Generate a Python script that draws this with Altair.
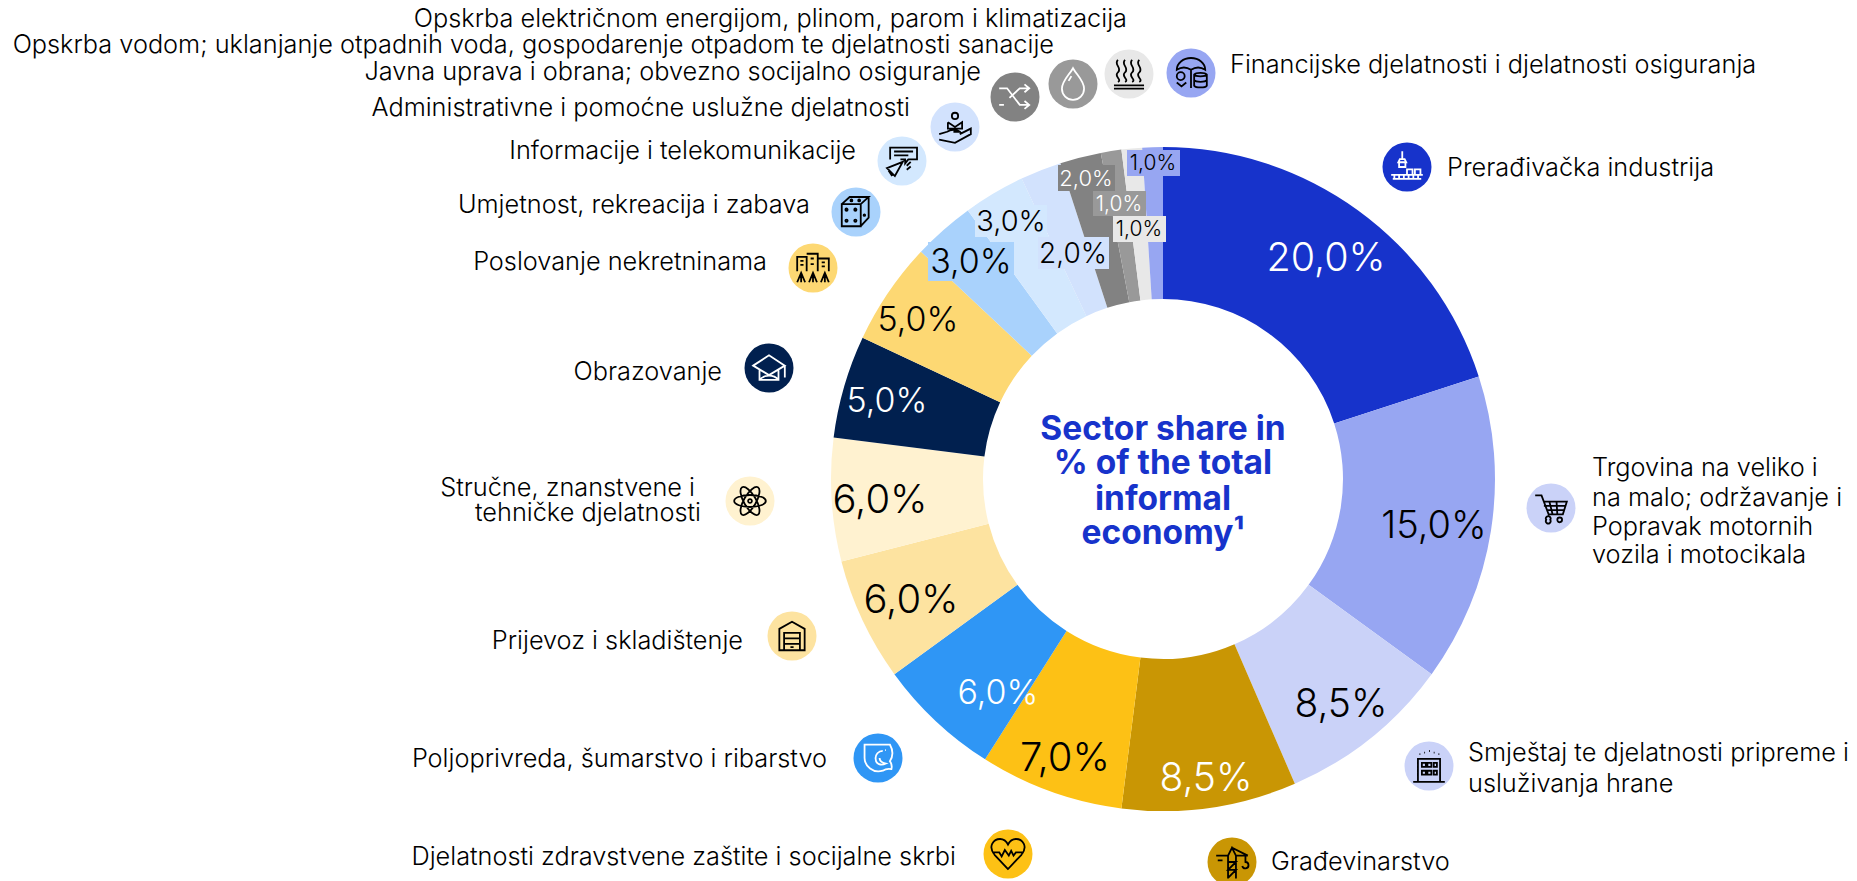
import altair as alt
import pandas as pd

W, H = 1841, 873
FONT = "Inter"

sectors = ["Prerađivačka industrija", "Trgovina", "Smještaj", "Građevinarstvo", "Zdravstvo",
           "Poljoprivreda", "Prijevoz", "Stručne", "Obrazovanje", "Nekretnine", "Umjetnost",
           "Informacije", "Administrativne", "Javna uprava", "Voda", "Energija", "Financije"]
shares = [20, 15, 8.5, 8.5, 7, 6, 6, 6, 5, 5, 3, 3, 2, 2, 1, 1, 1]
colors = ["#1733CB", "#97A6F2", "#CAD2F8", "#C99604", "#FDC115", "#2F96F5", "#FDE3A0", "#FFF2D0",
          "#01204F", "#FDD873", "#A9D2FC", "#D3E8FE", "#D2E2FD", "#828282", "#999999", "#E8E8E8", "#97A6F2"]

# value labels: text, centre x, centre y, font size, ink
val_text = ["20,0%", "15,0%", "8,5%", "8,5%", "7,0%", "6,0%", "6,0%", "6,0%", "5,0%", "5,0%",
            "3,0%", "3,0%", "2,0%", "2,0%", "1,0%", "1,0%", "1,0%"]
val_x = [1326, 1434, 1341, 1206, 1065, 998, 911, 880, 887, 918, 971, 1011, 1073, 1086, 1153, 1119, 1139]
val_y = [259, 527, 705, 779, 759, 694, 601, 501, 402, 321, 263, 222, 255, 179, 164, 205, 230]
val_size = [39.5, 38, 39, 39, 40, 34, 40, 40, 34, 34, 34, 29, 28, 22, 21, 21, 21]
val_ink = ["white", "black", "black", "white", "black", "white", "black", "black", "white", "black",
           "black", "black", "black", "white", "black", "white", "black"]

# tinted boxes behind the crowded value labels
box_x = [1127, 1058, 1093, 1113, 1038, 975, 928]
box_x2 = [1180, 1115, 1146, 1166, 1109, 1047, 1014]
box_y = [150, 165, 191, 216, 237, 205, 242]
box_y2 = [176, 191, 216, 242, 269, 237, 281]
box_color = ["#97A6F2", "#828282", "#999999", "#E8E8E8", "#D2E2FD", "#D3E8FE", "#A9D2FC"]

# outer labels
right_text = ["Financijske djelatnosti i djelatnosti osiguranja", "Prerađivačka industrija",
              "Trgovina na veliko i", "na malo; održavanje i", "Popravak motornih", "vozila i motocikala",
              "Smještaj te djelatnosti pripreme i", "usluživanja hrane", "Građevinarstvo"]
right_x = [1230, 1447, 1592, 1592, 1592, 1592, 1468, 1468, 1271]
right_y = [65, 168, 468, 498, 527, 555, 753, 784, 862]
left_text = ["Opskrba električnom energijom, plinom, parom i klimatizacija",
             "Opskrba vodom; uklanjanje otpadnih voda, gospodarenje otpadom te djelatnosti sanacije",
             "Javna uprava i obrana; obvezno socijalno osiguranje",
             "Administrativne i pomoćne uslužne djelatnosti", "Informacije i telekomunikacije",
             "Umjetnost, rekreacija i zabava", "Poslovanje nekretninama", "Obrazovanje",
             "Stručne, znanstvene i", "tehničke djelatnosti", "Prijevoz i skladištenje",
             "Poljoprivreda, šumarstvo i ribarstvo", "Djelatnosti zdravstvene zaštite i socijalne skrbi"]
left_x = [1127, 1054, 981, 910, 856, 810, 767, 722, 695, 701, 743, 827, 956]
left_y = [19, 45, 72, 108, 151, 205, 262, 372, 488, 513, 641, 759, 857]

center_lines = ["Sector share in", "% of the total", "informal", "economy¹"]
center_y = [430, 464, 500, 534]

# icon discs and glyphs (glyphs drawn in a -1..1 box)
icon_x = [1407, 1551, 1429, 1232, 1008, 878, 792, 750, 769, 813, 856, 902, 955, 1015, 1073, 1129, 1191]
icon_y = [167, 508, 766, 862, 854, 758, 636, 501, 368, 268, 212, 161, 127, 97, 84, 74, 73]
icon_fill = ["#1733CB", "#CAD2F8", "#CAD2F8", "#C99604", "#FDC115", "#2F96F5", "#FDE3A0", "#FFF2D0",
             "#01204F", "#FDD873", "#A9D2FC", "#D3E8FE", "#D2E2FD", "#828282", "#999999", "#E8E8E8", "#97A6F2"]
icon_ink = ["white", "black", "black", "black", "black", "white", "black", "black",
            "white", "black", "black", "black", "black", "white", "white", "black", "black"]
icon_path = [
    "M-0.3 -1V-0.5M-0.45 -0.5H-0.15L-0.05 -0.3H-0.55ZM-0.5 -0.3V0H-0.1V-0.3M-1 0.5H1M-0.9 0.75H0.9M-0.8 0.5V0.75M-0.5 0.5V0.75M-0.2 0.5V0.75M0.1 0.5V0.75M0.4 0.5V0.75M0.7 0.5V0.75M0 0.15H0.35V0.5H0ZM0.5 0.15H0.85V0.5H0.5Z",
    "M-1 -0.8H-0.6L-0.15 0.4H0.75L1 -0.4H-0.42M-0.45 -0.13H0.9M-0.3 0.13H0.8M-0.1 -0.4L0.1 0.4M0.35 -0.4L0.4 0.4M-0.05 0.75A0.15 0.15 0 1 1 -0.3 0.75A0.15 0.15 0 1 1 -0.05 0.75ZM0.7 0.75A0.15 0.15 0 1 1 0.4 0.75A0.15 0.15 0 1 1 0.7 0.75Z",
    "M-0.7 1V-0.45H0.7V1M-1 1H1M-0.45 -0.2H-0.2V0.05H-0.45ZM-0.1 -0.2H0.15V0.05H-0.1ZM0.3 -0.2H0.5V0.05H0.3ZM-0.45 0.3H-0.2V0.55H-0.45ZM-0.1 0.3H0.15V0.55H-0.1ZM0.3 0.3H0.5V0.55H0.3ZM-0.6 -0.75H-0.55M-0.3 -0.85H-0.25M0 -0.95H0.05M0.3 -0.85H0.35M0.6 -0.75H0.65",
    "M-0.25 1.05V-0.4L0 -0.9L0.25 -0.4V1.05M-0.25 -0.4H-1M0.25 -0.4H1M-0.25 -0.4L0 -0.9L1 -0.4M-0.25 -0.4L-1 -0.4M-0.25 0H0.25L-0.25 0.5H0.25L-0.25 1M0.25 0L-0.25 0.5M0.25 0.5L-0.25 1M0.85 -0.4V0A0.2 0.2 0 1 1 0.65 0.25M-0.9 -0.1H-0.6",
    "M0 0.95L-0.85 0.05C-1.3 -0.5 -0.9 -0.95 -0.5 -0.95C-0.25 -0.95 -0.1 -0.8 0 -0.6C0.1 -0.8 0.25 -0.95 0.5 -0.95C0.9 -0.95 1.3 -0.5 0.85 0.05ZM-1 -0.1H-0.55L-0.4 0.15L-0.2 -0.25L0.05 0.1L0.2 -0.2L0.35 0.1L0.5 -0.1H1",
    "M-0.85 -0.85H0.75C0.95 -0.5 0.95 -0.1 0.75 0.2C0.9 0.4 0.9 0.5 0.85 0.7C0.6 0.65 0.45 0.7 0.3 0.8C-0.3 1 -0.85 0.5 -0.85 0ZM0.3 -0.45A0.45 0.45 0 0 0 -0.15 0.05C-0.15 0.4 0.2 0.5 0.5 0.35C0.25 0.3 0.1 0.15 0.1 0M0.45 -0.5H0.5",
    "M0 -0.9L-0.8 -0.45V0.9H0.8V-0.45ZM-0.8 0.9H0.8M-0.5 -0.2H0.5V0.9H-0.5ZM-0.5 0.15H0.5M-0.5 0.5H0.5M-0.1 0.7H0.1",
    "M-1 0A1 0.38 0 1 1 1 0A1 0.38 0 1 1 -1 0ZM-0.5 -0.87A1 0.38 60 1 1 0.5 0.87A1 0.38 60 1 1 -0.5 -0.87ZM-0.5 0.87A1 0.38 120 1 1 0.5 -0.87A1 0.38 120 1 1 -0.5 0.87ZM0.12 0A0.12 0.12 0 1 1 -0.12 0A0.12 0.12 0 1 1 0.12 0Z",
    "M-1 -0.15L0 -0.8L1 -0.15L0 0.45ZM-0.6 0.15V0.75H0.6V0.15M-0.6 0.75C-0.3 0.4 0.3 0.4 0.6 0.75M1 -0.15V0.6",
    "M-1 0.2V-0.7H-0.4V0.2M-0.4 -0.9H0.3V0.2M0.3 -0.6H1V0.2M-0.8 -0.45H-0.6M-0.15 -0.6H0.05M0.55 -0.35H0.75M-0.8 -0.2H-0.6M-0.15 -0.25H0.05M0.55 -0.1H0.75M-1 0.9L-0.75 0.3L-0.5 0.9M-0.25 0.9L0 0.3L0.25 0.9M0.5 0.9L0.75 0.3L1 0.9M-0.75 0.9V0.3M0 0.9V0.3M0.75 0.9V0.3",
    "M-0.9 -0.5H0.3V0.9H-0.9ZM-0.9 -0.5L-0.4 -0.95H0.8L0.3 -0.5M0.8 -0.95V0.35L0.3 0.9M-0.53 -0.15A0.07 0.07 0 1 1 -0.67 -0.15A0.07 0.07 0 1 1 -0.53 -0.15ZM0.03 -0.15A0.07 0.07 0 1 1 -0.11 -0.15A0.07 0.07 0 1 1 0.03 -0.15ZM-0.53 0.55A0.07 0.07 0 1 1 -0.67 0.55A0.07 0.07 0 1 1 -0.53 0.55ZM0.03 0.55A0.07 0.07 0 1 1 -0.11 0.55A0.07 0.07 0 1 1 0.03 0.55ZM-0.23 -0.73A0.06 0.06 0 1 1 -0.35 -0.73A0.06 0.06 0 1 1 -0.23 -0.73ZM0.26 -0.73A0.06 0.06 0 1 1 0.14 -0.73A0.06 0.06 0 1 1 0.26 -0.73ZM0.58 0.2A0.05 0.05 0 1 1 0.48 0.2A0.05 0.05 0 1 1 0.58 0.2Z",
    "M-0.75 -0.1V-0.85H0.95V-0.1H0.4L0.2 0.15V-0.1H-0.1M-0.5 -0.6H0.7M-0.5 -0.35H0.4M-0.95 0.45L0.05 0.05L-0.45 0.95ZM-0.85 0.6L-0.65 0.9L-0.55 0.85M0.3 0.3L0.55 0.05M0.3 0.55L0.55 0.35",
    "M-1 0.45L-0.5 0.3C-0.2 0.1 0.2 0.2 0.3 0.3H-0.1M0.3 0.45L1 0.1V0.45L0 1L-1 0.8M-0.45 -0.3V0.1H0.45V-0.3L0 0L-0.45 -0.3M0.2 -0.7A0.2 0.2 0 1 1 -0.2 -0.7A0.2 0.2 0 1 1 0.2 -0.7Z",
    "M-1 -0.55H-0.5L0.3 0.5H0.85M0.6 0.25L0.9 0.5L0.6 0.75M-1 0.5H-0.7M-0.35 0.05L0.3 -0.55H0.85M0.6 -0.8L0.9 -0.55L0.6 -0.3",
    "M0 -1C0.25 -0.55 0.7 -0.2 0.7 0.3A0.7 0.7 0 0 1 -0.7 0.3C-0.7 -0.2 -0.25 -0.55 0 -1ZM-0.1 -0.5L-0.28 -0.2",
    "M-0.7 -0.9C-1 -0.6 -0.4 -0.4 -0.7 -0.1C-1 0.15 -0.4 0.35 -0.7 0.5M-0.25 -0.9C-0.55 -0.6 0.05 -0.4 -0.25 -0.1C-0.55 0.15 0.05 0.35 -0.25 0.5M0.2 -0.9C-0.1 -0.6 0.5 -0.4 0.2 -0.1C-0.1 0.15 0.5 0.35 0.2 0.5M0.65 -0.9C0.35 -0.6 0.95 -0.4 0.65 -0.1C0.35 0.15 0.95 0.35 0.65 0.5M-0.95 0.72H0.95M-0.95 0.92H0.95",
    "M-0.9 -0.2A0.9 0.75 0 0 1 0.9 -0.2C0.6 -0.4 0.3 -0.4 0 -0.2C-0.3 -0.4 -0.6 -0.4 -0.9 -0.2ZM0 -0.2V0.95M-0.4 0.2A0.25 0.25 0 1 1 -0.9 0.2A0.25 0.25 0 1 1 -0.4 0.2ZM-0.9 0.6L-0.6 0.85L-0.3 0.6M0.2 0.1C0.3 -0.05 0.9 -0.05 1 0.1V0.8C0.9 0.95 0.3 0.95 0.2 0.8ZM0.2 0.1C0.3 0.25 0.9 0.25 1 0.1M0.2 0.45C0.3 0.6 0.9 0.6 1 0.45",
]

xs = alt.Scale(domain=[8, 8 + W], range=[0, W], nice=False, zero=False)
ys = alt.Scale(domain=[8, 8 + H], range=[0, H], nice=False, zero=False)
X = lambda f: alt.X(f, scale=xs, axis=None)
Y = lambda f: alt.Y(f, scale=ys, axis=None)

pie = pd.DataFrame({"sector": sectors, "share": shares, "idx": range(len(shares))})
donut = alt.Chart(pie).mark_arc(innerRadius=180, outerRadius=332).encode(
    theta=alt.Theta("share:Q", stack=True),
    order=alt.Order("idx:Q"),
    color=alt.Color("sector:N", scale=alt.Scale(domain=sectors, range=colors), legend=None),
    x=alt.value(1163 - 8),
    y=alt.value(479 - 8),
)

boxes = alt.Chart(pd.DataFrame({"x": box_x, "x2": box_x2, "y": box_y, "y2": box_y2, "c": box_color})).mark_rect().encode(
    x=X("x:Q"), x2="x2:Q", y=Y("y:Q"), y2="y2:Q", color=alt.Color("c:N", scale=None))

vals = alt.Chart(pd.DataFrame({"t": val_text, "x": val_x, "y": val_y, "s": val_size, "k": val_ink})).mark_text(
    font=FONT, fontWeight=300, baseline="middle", align="center").encode(
    x=X("x:Q"), y=Y("y:Q"), text="t:N", size=alt.Size("s:Q", scale=None),
    color=alt.Color("k:N", scale=None))

right = alt.Chart(pd.DataFrame({"t": right_text, "x": right_x, "y": right_y})).mark_text(
    font=FONT, fontSize=25.3, fontWeight=300, align="left", baseline="middle", color="black").encode(
    x=X("x:Q"), y=Y("y:Q"), text="t:N")
left = alt.Chart(pd.DataFrame({"t": left_text, "x": left_x, "y": left_y})).mark_text(
    font=FONT, fontSize=25.3, fontWeight=300, align="right", baseline="middle", color="black").encode(
    x=X("x:Q"), y=Y("y:Q"), text="t:N")
center = alt.Chart(pd.DataFrame({"t": center_lines, "y": center_y, "x": [1163] * 4})).mark_text(
    font=FONT, fontSize=33.5, fontWeight=700, align="center", baseline="middle", color="#1733CB").encode(
    x=X("x:Q"), y=Y("y:Q"), text="t:N")

icons = pd.DataFrame({"x": icon_x, "y": icon_y, "c": icon_fill, "k": icon_ink, "p": icon_path})
discs = alt.Chart(icons).mark_circle(size=2401, opacity=1).encode(
    x=X("x:Q"), y=Y("y:Q"), color=alt.Color("c:N", scale=None))
glyphs = alt.Chart(icons).mark_point(size=1000, filled=False, opacity=1, strokeWidth=1.8).encode(
    x=X("x:Q"), y=Y("y:Q"), shape=alt.Shape("p:N", scale=None), stroke=alt.Stroke("k:N", scale=None))

chart = alt.layer(donut, boxes, vals, right, left, center, discs, glyphs).resolve_scale(
    color="independent", size="independent"
).properties(width=W, height=H, padding=0, autosize=alt.AutoSizeParams(type="none")
).configure_view(stroke=None)

chart.save("out.html", embed_options={"renderer": "svg", "actions": False})
